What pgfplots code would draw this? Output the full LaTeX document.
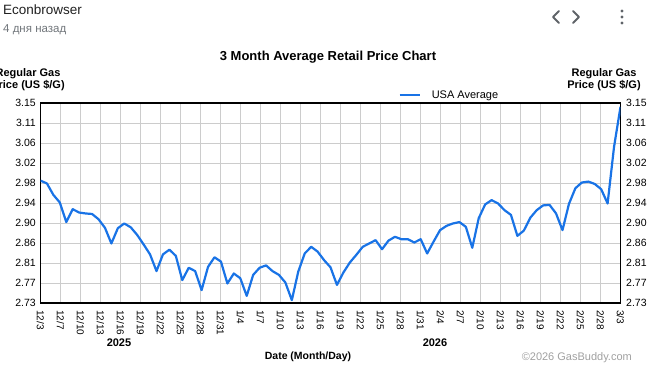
\documentclass[border=0pt]{standalone}
\usepackage{pgfplots}
\pgfplotsset{compat=1.18}
\usepackage{fontspec}
\setmainfont{Liberation Sans}
\definecolor{gbblue}{RGB}{25,115,230}
\definecolor{gridgray}{RGB}{204,204,204}
\definecolor{hdrgray}{RGB}{112,117,122}
\definecolor{icongray}{RGB}{95,99,104}
\definecolor{copygray}{RGB}{160,160,160}
\begin{document}
\begin{tikzpicture}[x=1pt,y=1pt]
\useasboundingbox (0,0) rectangle (649,365);
% header
\node[anchor=west,inner sep=0pt,text=black!87] at (3,355) {\fontsize{13.5}{16}\selectfont Econbrowser};
\node[anchor=west,inner sep=0pt,text=hdrgray] at (3,335) {\fontsize{11.5}{14}\selectfont 4 дня назад};
\draw[icongray,line width=1.8pt,line cap=round,line join=round] (559,354) -- (553,348) -- (559,342);
\draw[icongray,line width=1.8pt,line cap=round,line join=round] (573,354) -- (579,348) -- (573,342);
\fill[icongray] (622,354) circle (1.7) (622,348) circle (1.7) (622,342) circle (1.7);
% title
\node[inner sep=0pt] at (328,307.5) {\fontsize{13}{15}\selectfont\bfseries 3 Month Average Retail Price Chart};
% y titles
\node[inner sep=0pt] at (28,291) {\fontsize{11}{13}\selectfont\bfseries Regular Gas};
\node[inner sep=0pt] at (28,279) {\fontsize{11}{13}\selectfont\bfseries Price (US \$/G)};
\node[inner sep=0pt] at (604,291) {\fontsize{11}{13}\selectfont\bfseries Regular Gas};
\node[inner sep=0pt] at (604,279) {\fontsize{11}{13}\selectfont\bfseries Price (US \$/G)};
% bottom texts
\node[inner sep=0pt] at (119,22) {\fontsize{11}{13}\selectfont\bfseries 2025};
\node[inner sep=0pt] at (435,22) {\fontsize{11}{13}\selectfont\bfseries 2026};
\node[inner sep=0pt] at (308,8) {\fontsize{10.5}{13}\selectfont\bfseries Date (Month/Day)};
\node[inner sep=0pt,text=copygray,anchor=east] at (632,7) {\fontsize{11}{13}\selectfont ©2026 GasBuddy.com};

\begin{axis}[
  at={(40.5pt,62pt)}, anchor=south west,
  scale only axis, width=580pt, height=200pt,
  xmin=0, xmax=90, ymin=2.73, ymax=3.15,
  axis line style={black,line width=1.2pt},
  grid=major, major grid style={gridgray,line width=0.9pt},
  major tick length=0pt, tick style={draw=none},
  xtick={0,3.1034,6.2069,9.3103,12.4138,15.5172,18.6207,21.7241,24.8276,27.9310,31.0345,34.1379,37.2414,40.3448,43.4483,46.5517,49.6552,52.7586,55.8621,58.9655,62.0690,65.1724,68.2759,71.3793,74.4828,77.5862,80.6897,83.7931,86.8966,90},
  xticklabels={12/3,12/7,12/10,12/13,12/16,12/19,12/22,12/25,12/28,12/31,1/4,1/7,1/10,1/13,1/16,1/19,1/22,1/25,1/28,1/31,2/4,2/7,2/10,2/13,2/16,2/19,2/22,2/25,2/28,3/3},
  ytick={2.73,2.772,2.814,2.856,2.898,2.94,2.982,3.024,3.066,3.108,3.15},
  yticklabels={2.73,2.77,2.81,2.86,2.90,2.94,2.98,3.02,3.06,3.11,3.15},
  x tick label style={rotate=-90,anchor=west,inner ysep=0pt,inner xsep=7pt,font=\fontsize{10}{12}\selectfont},
  y tick label style={anchor=east,inner ysep=0pt,inner xsep=4.5pt,font=\fontsize{10.5}{12}\selectfont},
  legend style={at={(0.617,1.04)},anchor=west,draw=none,fill=none,inner sep=0pt,font=\fontsize{11}{13}\selectfont,
    /tikz/every odd column/.append style={column sep=9pt}},
  legend image code/.code={\draw[#1] (0pt,0pt) -- (20pt,0pt);},
]
\addplot[gbblue,line width=2.2pt,line join=round] coordinates {
(0,2.987)(1,2.981)(2,2.957)(3,2.941)(4,2.900)(5,2.927)(6,2.920)(7,2.918)(8,2.917)(9,2.906)
(10,2.888)(11,2.855)(12,2.887)(13,2.897)(14,2.889)(15,2.873)(16,2.853)(17,2.832)(18,2.797)(19,2.832)
(20,2.842)(21,2.829)(22,2.778)(23,2.804)(24,2.797)(25,2.757)(26,2.806)(27,2.826)(28,2.817)(29,2.771)
(30,2.792)(31,2.782)(32,2.745)(33,2.789)(34,2.804)(35,2.809)(36,2.797)(37,2.789)(38,2.773)(39,2.736)
(40,2.796)(41,2.834)(42,2.848)(43,2.838)(44,2.820)(45,2.805)(46,2.768)(47,2.794)(48,2.815)(49,2.831)
(50,2.848)(51,2.855)(52,2.862)(53,2.843)(54,2.861)(55,2.869)(56,2.864)(57,2.864)(58,2.857)(59,2.864)
(60,2.834)(61,2.859)(62,2.883)(63,2.892)(64,2.897)(65,2.900)(66,2.890)(67,2.846)(68,2.908)(69,2.937)
(70,2.946)(71,2.939)(72,2.925)(73,2.915)(74,2.871)(75,2.882)(76,2.909)(77,2.925)(78,2.935)(79,2.936)
(80,2.918)(81,2.883)(82,2.938)(83,2.971)(84,2.983)(85,2.985)(86,2.980)(87,2.969)(88,2.939)(89,3.058)
(90,3.142)};
\addlegendentry{USA Average}
\end{axis}
\begin{axis}[
  at={(40.5pt,62pt)}, anchor=south west,
  scale only axis, width=580pt, height=200pt,
  xmin=0, xmax=90, ymin=2.73, ymax=3.15,
  axis x line=none, axis y line*=right,
  axis line style={draw=none},
  major tick length=0pt, tick style={draw=none},
  ytick={2.73,2.772,2.814,2.856,2.898,2.94,2.982,3.024,3.066,3.108,3.15},
  yticklabels={2.73,2.77,2.81,2.86,2.90,2.94,2.98,3.02,3.06,3.11,3.15},
  y tick label style={anchor=west,inner ysep=0pt,inner xsep=5.5pt,font=\fontsize{10.5}{12}\selectfont},
]
\end{axis}
\end{tikzpicture}
\end{document}
